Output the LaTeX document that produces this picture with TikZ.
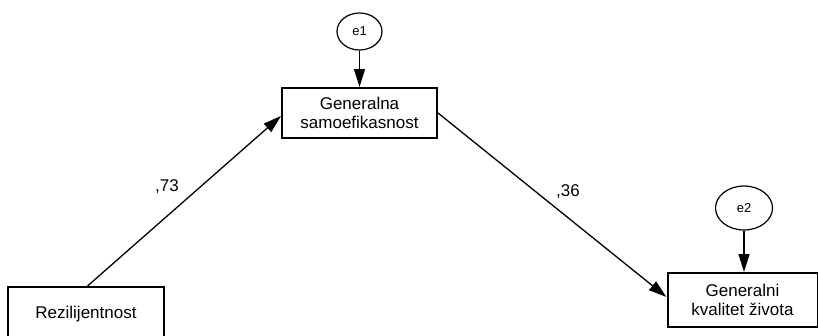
\documentclass[tikz,border=0pt]{standalone}
\usepackage{fontspec}
\setmainfont{Liberation Sans}
\usetikzlibrary{arrows.meta,shapes.geometric}

\tikzset{
  varbox/.style={draw, line width=2pt, rectangle, inner sep=0pt, align=center,
    font=\fontsize{17}{19}\selectfont},
  errnode/.style={draw, line width=1.2pt, ellipse, inner sep=0pt,
    font=\fontsize{13}{15}\selectfont},
  path/.style={line width=1.3pt, -{Triangle[length=18pt,width=11pt]}},
  coef/.style={font=\fontsize{17}{19}\selectfont, inner sep=0pt}
}

\begin{document}
\begin{tikzpicture}[x=1pt, y=-1pt]
  \useasboundingbox (0,0) rectangle (818,335);

  % observed variables
  \node[varbox, minimum width=156pt, minimum height=54pt] (rez) at (86,314) {Rezilijentnost};
  \node[varbox, minimum width=155pt, minimum height=50pt] (gen) at (359.5,113) {Generalna\\samoefikasnost};
  \node[varbox, minimum width=150pt, minimum height=54pt] (gkz) at (742.5,300) {Generalni\\kvalitet života};

  % error terms
  \node[errnode, minimum width=45pt, minimum height=37pt] (e1) at (359.5,31.5) {e1};
  \node[errnode, minimum width=57pt, minimum height=44pt] (e2) at (744,208) {e2};

  % structural paths
  \draw[path] ([xshift=1.5pt]rez.north) -- ([yshift=-3pt]gen.west);
  \draw[path] (gen.east) -- ([yshift=3pt]gkz.west);
  \draw[path] (e1.south) -- (gen.north);
  \draw[path] (e2.south) -- (e2.south |- gkz.north);

  % path coefficients
  \node[coef] (c1) at (167,187) {,73};
  \node[coef] (c2) at (568,192) {,36};
\end{tikzpicture}
\end{document}
